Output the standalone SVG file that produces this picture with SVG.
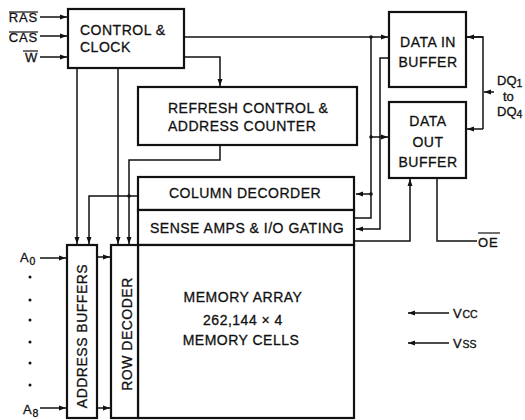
<svg xmlns="http://www.w3.org/2000/svg" width="525" height="420" viewBox="0 0 525 420">
<defs>
<marker id="ah" markerWidth="8" markerHeight="6" refX="7" refY="3" orient="auto" markerUnits="userSpaceOnUse">
<path d="M0,0.5 L7,3 L0,5.5 Z" fill="#111"/>
</marker>
<style>
.box{fill:#fff;stroke:#111;stroke-width:2.2}
.ln{fill:none;stroke:#111;stroke-width:1.5}
.ar{fill:none;stroke:#111;stroke-width:1.5;marker-end:url(#ah)}
text{font-family:"Liberation Sans",Arial,sans-serif;fill:#111;stroke:#111;stroke-width:0.3;font-size:14px;letter-spacing:0.5px}
.lbl{font-size:13px;letter-spacing:0.8px}
.sub{font-size:10.5px;letter-spacing:0}
.ov{stroke:#111;stroke-width:1.2}
</style>
</defs>
<rect width="525" height="420" fill="#fff"/>

<g id="connectors">
<path class="ar" d="M40,17 H67"/>
<path class="ar" d="M40,36 H67"/>
<path class="ar" d="M40,57 H67"/>
<path class="ar" d="M184,37 H388"/>
<path class="ar" d="M184,57 H220 V86"/>
<path class="ln" d="M371,37 V218 H355"/>
<path class="ar" d="M371,137 H388"/>
<path class="ar" d="M371,194 H356"/>
<path class="ar" d="M389,58 H380 V229 H356"/>
<path class="ar" d="M355,241 H410 V179"/>
<path class="ln" d="M477,241 H437 V178"/>
<path class="ar" d="M77,68 V244"/>
<path class="ar" d="M118,68 V244"/>
<path class="ar" d="M220,145 V160 H129 V244"/>
<path class="ar" d="M138,196 H89 V244"/>
<path class="ar" d="M40,258 H66"/>
<path class="ar" d="M40,408 H66"/>
<path class="ar" d="M97,257 H110"/>
<path class="ar" d="M97,408 H110"/>
<path class="ar" d="M483,37 H467"/>
<path class="ln" d="M466,37 H483 V129"/>
<path class="ar" d="M483,129 H467"/>
<path class="ar" d="M494,92 H484"/>
<path class="ar" d="M449,313 H408"/>
<path class="ar" d="M449,343 H408"/>
<circle cx="371" cy="37" r="1.8" fill="#111"/>
<circle cx="371" cy="137" r="1.8" fill="#111"/>
<circle cx="371" cy="194" r="1.8" fill="#111"/>
<circle cx="129" cy="196" r="1.8" fill="#111"/>
</g>

<g id="control-clock">
<rect class="box" x="68" y="9" width="116" height="59"/>
<text x="80" y="35">CONTROL &amp;</text>
<text x="80" y="52">CLOCK</text>
</g>

<g id="refresh">
<rect class="box" x="138" y="87" width="219" height="58"/>
<text x="168" y="113">REFRESH CONTROL &amp;</text>
<text x="168" y="131">ADDRESS COUNTER</text>
</g>

<g id="column-decoder">
<rect class="box" x="138" y="177" width="216" height="33"/>
<text x="245" y="198" text-anchor="middle">COLUMN DECORDER</text>
</g>

<g id="sense-amps">
<rect class="box" x="138" y="210" width="216" height="35"/>
<text x="247" y="233" text-anchor="middle">SENSE AMPS &amp; I/O GATING</text>
</g>

<g id="memory-array">
<rect class="box" x="138" y="245" width="216" height="173"/>
<text x="243" y="302" text-anchor="middle">MEMORY ARRAY</text>
<text x="243" y="325" text-anchor="middle">262,144 × 4</text>
<text x="241" y="345" text-anchor="middle">MEMORY CELLS</text>
</g>

<g id="address-buffers">
<rect class="box" x="67" y="245" width="30" height="173"/>
<text transform="translate(87,336) rotate(-90)" text-anchor="middle">ADDRESS BUFFERS</text>
</g>

<g id="row-decoder">
<rect class="box" x="111" y="245" width="27" height="173"/>
<text transform="translate(132,334) rotate(-90)" text-anchor="middle">ROW DECODER</text>
</g>

<g id="data-in">
<rect class="box" x="389" y="12" width="77" height="75"/>
<text x="428" y="47" text-anchor="middle">DATA IN</text>
<text x="428" y="67" text-anchor="middle">BUFFER</text>
</g>

<g id="data-out">
<rect class="box" x="389" y="102" width="77" height="76"/>
<text x="428" y="126" text-anchor="middle">DATA</text>
<text x="428" y="147" text-anchor="middle">OUT</text>
<text x="428" y="167" text-anchor="middle">BUFFER</text>
</g>

<g id="labels">
<text class="lbl" x="38" y="22" text-anchor="end">RAS</text>
<line class="ov" x1="9" y1="12" x2="38" y2="12"/>
<text class="lbl" x="38" y="42" text-anchor="end">CAS</text>
<line class="ov" x1="9" y1="32" x2="38" y2="32"/>
<text class="lbl" x="38" y="62" text-anchor="end">W</text>
<line class="ov" x1="23" y1="51" x2="38" y2="51"/>
<text class="lbl" x="20" y="262">A<tspan class="sub" dy="3">0</tspan></text>
<text class="lbl" x="23" y="414">A<tspan class="sub" dy="3">8</tspan></text>
<circle cx="30" cy="277" r="1.5" fill="#111"/>
<circle cx="30" cy="300" r="1.5" fill="#111"/>
<circle cx="30" cy="320" r="1.5" fill="#111"/>
<circle cx="30" cy="342" r="1.5" fill="#111"/>
<circle cx="30" cy="363" r="1.5" fill="#111"/>
<circle cx="30" cy="385" r="1.5" fill="#111"/>
<text class="lbl" x="478" y="247">OE</text>
<line class="ov" x1="478" y1="233" x2="500" y2="233"/>
<text class="lbl" x="453" y="318">V<tspan class="sub">CC</tspan></text>
<text class="lbl" x="453" y="348">V<tspan class="sub">SS</tspan></text>
<text class="lbl" x="497" y="85" style="letter-spacing:0">DQ<tspan class="sub" dy="2">1</tspan></text>
<text class="lbl" x="503" y="101" style="letter-spacing:0">to</text>
<text class="lbl" x="497" y="116" style="letter-spacing:0">DQ<tspan class="sub" dy="2">4</tspan></text>
</g>
</svg>
